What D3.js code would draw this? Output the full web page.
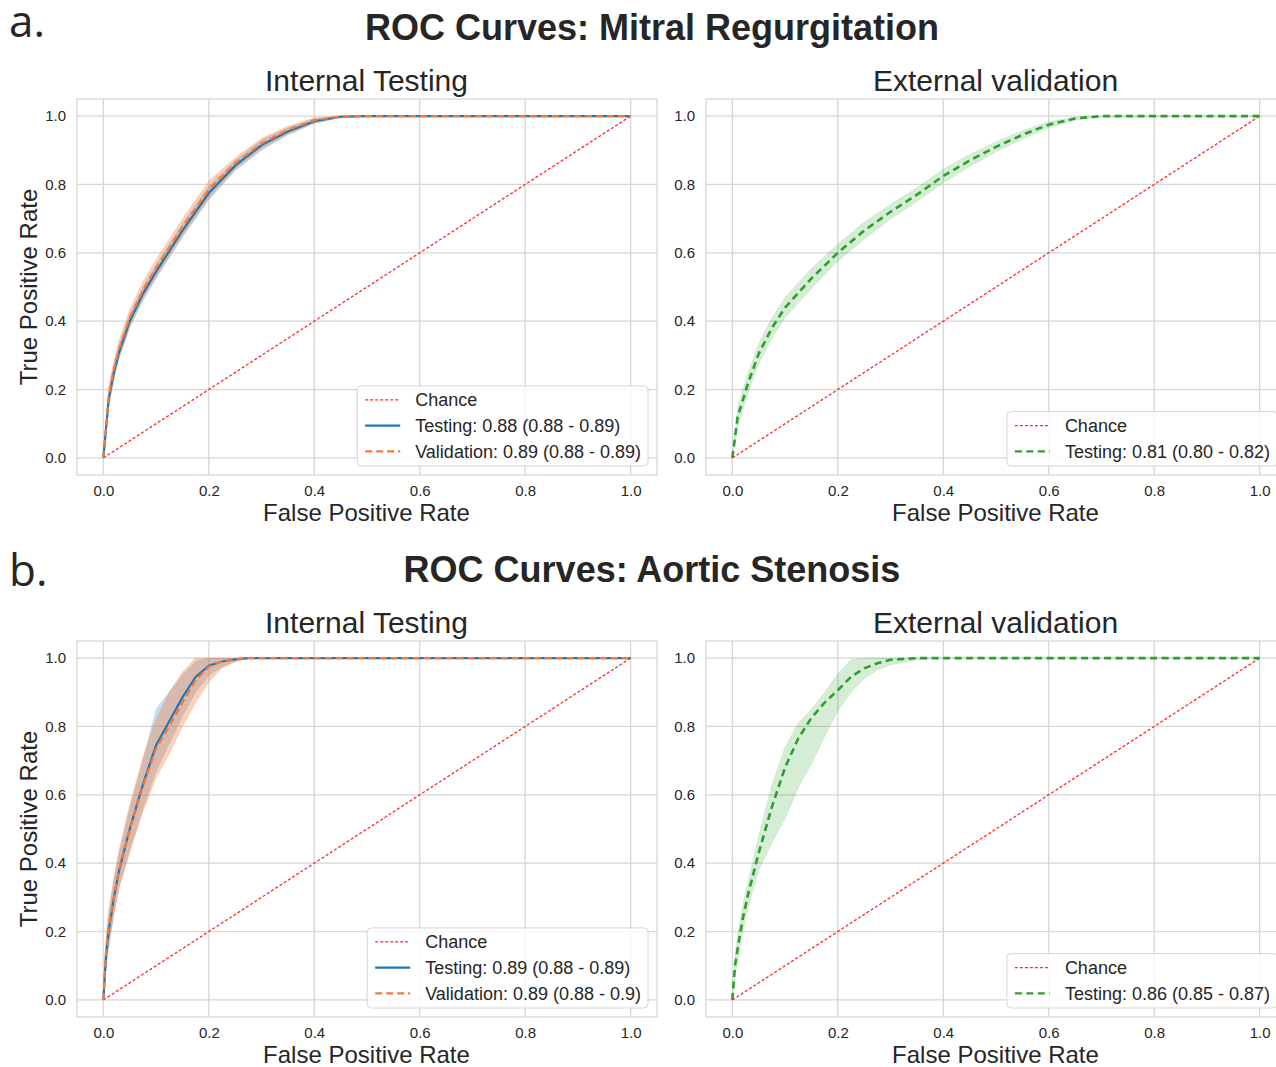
<!DOCTYPE html>
<html lang="en">
<head>
  <meta charset="UTF-8" />
  <title>ROC Curves</title>
  <style>
    * { margin:0; padding:0; box-sizing:border-box }
    body { background:#fff; font-family:'Liberation Sans',Arial,sans-serif; }
    svg text { fill:#262626; }
  </style>
</head>
<body>
  <div id="chart"></div>

  <script src="https://d3js.org/d3.v7.min.js"></script>
  <script>
    // ── Data ────────────────────────────────────
    // a. Mitral Regurgitation, internal testing
    const mrIntFpr   = [0, 0.01, 0.02, 0.03, 0.05, 0.075, 0.1, 0.15, 0.2, 0.25, 0.3, 0.35, 0.4, 0.45, 0.5, 1.0];
    const mrTestTpr  = [0, 0.17, 0.25, 0.31, 0.40, 0.48, 0.545, 0.665, 0.775, 0.855, 0.915, 0.955, 0.985, 0.998, 1, 1];
    const mrTestLo   = [0, 0.15, 0.23, 0.29, 0.38, 0.46, 0.525, 0.645, 0.755, 0.84, 0.90, 0.945, 0.978, 0.995, 1, 1];
    const mrTestHi   = [0, 0.19, 0.27, 0.33, 0.42, 0.50, 0.565, 0.685, 0.795, 0.87, 0.93, 0.965, 0.992, 1, 1, 1];
    const mrValTpr   = [0, 0.18, 0.26, 0.32, 0.41, 0.49, 0.555, 0.675, 0.785, 0.862, 0.92, 0.96, 0.988, 0.999, 1, 1];
    const mrValLo    = [0, 0.15, 0.235, 0.295, 0.385, 0.465, 0.53, 0.65, 0.76, 0.845, 0.905, 0.948, 0.98, 0.996, 1, 1];
    const mrValHi    = [0, 0.21, 0.285, 0.345, 0.435, 0.515, 0.58, 0.70, 0.81, 0.878, 0.935, 0.97, 0.995, 1, 1, 1];

    // a. Mitral Regurgitation, external validation
    const mrExtFpr   = [0, 0.01, 0.02, 0.03, 0.05, 0.075, 0.1, 0.15, 0.2, 0.25, 0.3, 0.35, 0.4, 0.45, 0.5, 0.55, 0.6, 0.65, 0.7, 1.0];
    const mrExtTpr   = [0, 0.12, 0.17, 0.22, 0.305, 0.38, 0.44, 0.525, 0.60, 0.665, 0.72, 0.77, 0.825, 0.87, 0.91, 0.945, 0.975, 0.993, 1, 1];
    const mrExtLo    = [0, 0.09, 0.14, 0.19, 0.275, 0.35, 0.41, 0.495, 0.575, 0.64, 0.698, 0.75, 0.805, 0.852, 0.895, 0.933, 0.966, 0.988, 0.998, 1];
    const mrExtHi    = [0, 0.15, 0.20, 0.25, 0.335, 0.41, 0.47, 0.555, 0.625, 0.69, 0.742, 0.79, 0.845, 0.888, 0.925, 0.957, 0.984, 0.997, 1, 1];

    // b. Aortic Stenosis, internal testing
    const asIntFpr   = [0, 0.005, 0.01, 0.02, 0.03, 0.05, 0.075, 0.1, 0.125, 0.15, 0.175, 0.2, 0.225, 0.25, 0.275, 0.3, 1.0];
    const asTestTpr  = [0, 0.13, 0.20, 0.30, 0.38, 0.50, 0.63, 0.745, 0.815, 0.885, 0.945, 0.978, 0.99, 0.996, 1, 1, 1];
    const asTestLo   = [0, 0.09, 0.15, 0.25, 0.33, 0.44, 0.56, 0.67, 0.75, 0.83, 0.90, 0.95, 0.975, 0.99, 1, 1, 1];
    const asTestHi   = [0, 0.17, 0.25, 0.35, 0.43, 0.56, 0.70, 0.85, 0.90, 0.95, 0.99, 1, 1, 1, 1, 1, 1];
    const asValTpr   = [0, 0.14, 0.21, 0.30, 0.385, 0.50, 0.625, 0.735, 0.80, 0.87, 0.935, 0.975, 0.99, 0.997, 1, 1, 1];
    const asValLo    = [0, 0.10, 0.16, 0.25, 0.33, 0.43, 0.55, 0.65, 0.72, 0.80, 0.87, 0.93, 0.97, 0.99, 1, 1, 1];
    const asValHi    = [0, 0.18, 0.26, 0.36, 0.44, 0.57, 0.71, 0.82, 0.90, 0.96, 1, 1, 1, 1, 1, 1, 1];

    // b. Aortic Stenosis, external validation
    const asExtFpr   = [0, 0.005, 0.01, 0.02, 0.03, 0.05, 0.075, 0.1, 0.125, 0.15, 0.175, 0.2, 0.225, 0.25, 0.275, 0.3, 0.35, 0.4, 1.0];
    const asExtTpr   = [0, 0.10, 0.15, 0.24, 0.31, 0.43, 0.565, 0.68, 0.765, 0.825, 0.87, 0.906, 0.945, 0.97, 0.985, 0.995, 1, 1, 1];
    const asExtLo    = [0, 0.07, 0.11, 0.20, 0.27, 0.38, 0.46, 0.53, 0.62, 0.69, 0.77, 0.845, 0.90, 0.94, 0.965, 0.98, 0.995, 1, 1];
    const asExtHi    = [0, 0.13, 0.19, 0.28, 0.35, 0.48, 0.63, 0.74, 0.81, 0.85, 0.90, 0.955, 0.995, 1, 1, 1, 1, 1, 1];

    const chance     = [0, 1];
    const ticks      = [0, 0.2, 0.4, 0.6, 0.8, 1.0];

    const testLabels = ["Testing: 0.88 (0.88 - 0.89)", "Testing: 0.89 (0.88 - 0.89)"];
    const valLabels  = ["Validation: 0.89 (0.88 - 0.89)", "Validation: 0.89 (0.88 - 0.9)"];
    const extLabels  = ["Testing: 0.81 (0.80 - 0.82)", "Testing: 0.86 (0.85 - 0.87)"];
    const rowTitles  = ["ROC Curves: Mitral Regurgitation", "ROC Curves: Aortic Stenosis"];
    const rowLetters = ["a.", "b."];

    const colors = { chance:"#ff2a2a", test:"#1f77b4", val:"#f5793a", ext:"#2ca02c" };

    // ── Build series tables ─────────────────────
    const zip = (fpr, tpr, lo, hi) => fpr.map((x,i)=>({x, y:tpr[i], lo:lo[i], hi:hi[i]}));

    const rows = [
      {
        internal: [
          { pts:zip(mrIntFpr,mrTestTpr,mrTestLo,mrTestHi), color:colors.test, dash:null, label:testLabels[0], alpha:0.25 },
          { pts:zip(mrIntFpr,mrValTpr,mrValLo,mrValHi),   color:colors.val,  dash:"7,4", label:valLabels[0], alpha:0.35 }
        ],
        external: [
          { pts:zip(mrExtFpr,mrExtTpr,mrExtLo,mrExtHi), color:colors.ext, dash:"7,4.5", label:extLabels[0], alpha:0.2 }
        ]
      },
      {
        internal: [
          { pts:zip(asIntFpr,asTestTpr,asTestLo,asTestHi), color:colors.test, dash:null, label:testLabels[1], alpha:0.25 },
          { pts:zip(asIntFpr,asValTpr,asValLo,asValHi),   color:colors.val,  dash:"7,4", label:valLabels[1], alpha:0.35 }
        ],
        external: [
          { pts:zip(asExtFpr,asExtTpr,asExtLo,asExtHi), color:colors.ext, dash:"7,4.5", label:extLabels[1], alpha:0.2 }
        ]
      }
    ];

    // ── Layout ──────────────────────────────────
    const W = 1276, H = 1067;
    const rowTop = [99, 641], axH = 376;
    const colLeft = [77, 706], axW = 580;
    const letterY = [37, 586];

    const svg = d3.select("#chart").append("svg")
      .attr("width", W).attr("height", H)
      .attr("viewBox", [0,0,W,H]);

    rows.forEach((row, r) => {
      const top = rowTop[r];

      svg.append("text")
        .attr("x", 9).attr("y", letterY[r])
        .style("font-family", "'Open Sans',sans-serif")
        .style("font-size", "44px")
        .text(rowLetters[r]);

      svg.append("text")
        .attr("x", 652).attr("y", top - 59)
        .attr("text-anchor", "middle")
        .style("font-size", "36px").style("font-weight", "bold")
        .text(rowTitles[r]);

      drawPanel(colLeft[0], top, "Internal Testing", row.internal, true);
      drawPanel(colLeft[1], top, "External validation", row.external, false);
    });

    function drawPanel(left, top, title, series, showYLabel){
      const x = d3.scaleLinear().domain([-0.05, 1.05]).range([left, left + axW]);
      const y = d3.scaleLinear().domain([-0.05, 1.05]).range([top + axH, top]);
      const g = svg.append("g");

      // grid
      g.append("g").selectAll("line").data(ticks).join("line")
        .attr("x1", d=>x(d)).attr("x2", d=>x(d))
        .attr("y1", top).attr("y2", top + axH)
        .attr("stroke", "#d6d6d6").attr("stroke-width", 1.3);
      g.append("g").selectAll("line").data(ticks).join("line")
        .attr("y1", d=>y(d)).attr("y2", d=>y(d))
        .attr("x1", left).attr("x2", left + axW)
        .attr("stroke", "#d6d6d6").attr("stroke-width", 1.3);

      // frame
      g.append("rect")
        .attr("x", left).attr("y", top).attr("width", axW).attr("height", axH)
        .attr("fill", "none").attr("stroke", "#d6d6d6").attr("stroke-width", 1.3);

      // axes (tick labels only)
      const xa = g.append("g").attr("transform", `translate(0,${top + axH})`)
        .call(d3.axisBottom(x).tickValues(ticks).tickFormat(d3.format(".1f")).tickSize(0).tickPadding(10));
      const ya = g.append("g").attr("transform", `translate(${left},0)`)
        .call(d3.axisLeft(y).tickValues(ticks).tickFormat(d3.format(".1f")).tickSize(0).tickPadding(11));
      [xa, ya].forEach(a => {
        a.select(".domain").remove();
        a.selectAll("text").style("font-size", "15px")
          .style("font-family", "'Liberation Sans',Arial,sans-serif").attr("fill", "#262626");
      });

      // bands
      const area = d3.area().x(d=>x(d.x)).y0(d=>y(d.lo)).y1(d=>y(d.hi));
      series.forEach(s => {
        g.append("path").datum(s.pts)
          .attr("d", area).attr("fill", s.color).attr("fill-opacity", s.alpha)
          .attr("stroke", s.color).attr("stroke-opacity", s.alpha * 0.6).attr("stroke-width", 0.8);
      });

      // chance line
      g.append("line")
        .attr("x1", x(chance[0])).attr("y1", y(chance[0]))
        .attr("x2", x(chance[1])).attr("y2", y(chance[1]))
        .attr("stroke", colors.chance).attr("stroke-width", 1.3)
        .attr("stroke-dasharray", "3,2");

      // mean curves
      const line = d3.line().x(d=>x(d.x)).y(d=>y(d.y));
      series.forEach(s => {
        g.append("path").datum(s.pts)
          .attr("d", line).attr("fill", "none")
          .attr("stroke", s.color).attr("stroke-width", s.color === colors.ext ? 2.6 : 2.2)
          .attr("stroke-dasharray", s.dash);
      });

      // titles
      g.append("text")
        .attr("x", left + axW/2 - 0.5).attr("y", top - 8)
        .attr("text-anchor", "middle").style("font-size", "30px")
        .text(title);
      g.append("text")
        .attr("x", left + axW/2 - 0.5).attr("y", top + axH + 46)
        .attr("text-anchor", "middle").style("font-size", "24px")
        .text("False Positive Rate");
      if (showYLabel) {
        g.append("text")
          .attr("transform", `translate(${left - 40},${y(0.5)}) rotate(-90)`)
          .attr("text-anchor", "middle").style("font-size", "24px")
          .text("True Positive Rate");
      }

      // legend
      const items = [{ label:"Chance", color:colors.chance, dash:"3,2", w:1.4 }]
        .concat(series.map(s => ({ label:s.label, color:s.color, dash:s.dash, w:2.2 })));
      const rowH = 25.7;
      const lg = g.append("g");
      const box = lg.append("rect").attr("rx", 4)
        .attr("fill", "#fff").attr("fill-opacity", 0.8)
        .attr("stroke", "#d6d6d6").attr("stroke-width", 1);
      let maxW = 0;
      items.forEach((it, i) => {
        const cy = 14 + i * rowH;
        lg.append("line").attr("x1", 8).attr("x2", 43).attr("y1", cy).attr("y2", cy)
          .attr("stroke", it.color).attr("stroke-width", it.w).attr("stroke-dasharray", it.dash);
        const t = lg.append("text").attr("x", 58).attr("y", cy + 6.5)
          .style("font-size", "18px").text(it.label);
        maxW = Math.max(maxW, t.node().getComputedTextLength());
      });
      const lgW = 58 + maxW + 7, lgH = items.length * rowH + 3;
      box.attr("width", lgW).attr("height", lgH);
      lg.attr("transform", `translate(${left + axW - 9 - lgW},${top + axH - 9 - lgH})`);
    }
  </script>
</body>
</html>
